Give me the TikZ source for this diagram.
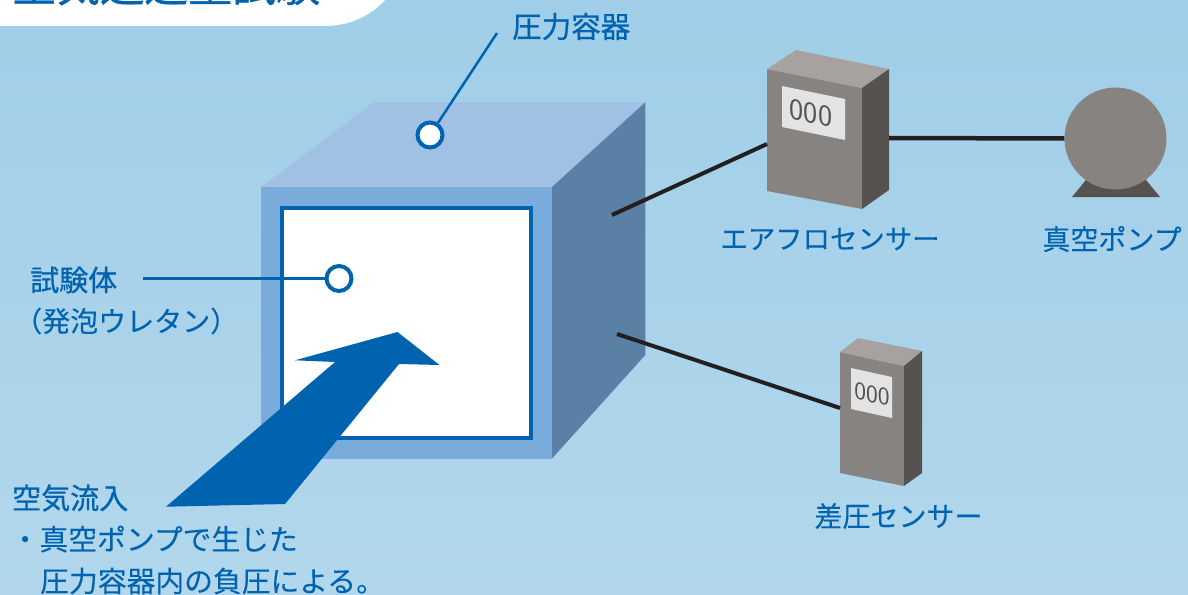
\documentclass[tikz,border=0pt]{standalone}
\usepackage{fontspec}
\setmainfont{Noto Sans CJK JP}
\newfontfamily\headfont[FakeBold=0.7]{Noto Sans CJK JP}
\newfontfamily\thinfont[FakeBold=0.15]{Noto Sans CJK JP}
\usetikzlibrary{positioning}
\definecolor{skytop}{HTML}{A0CEE8}
\definecolor{skybot}{HTML}{B2D7EC}
\definecolor{inkblue}{HTML}{0063B0}
\definecolor{boxgray}{HTML}{878381}
\definecolor{boxtop}{HTML}{A7A29F}
\definecolor{boxside}{HTML}{55524F}
\definecolor{panelgray}{HTML}{E4E3E4}
\definecolor{wirecol}{HTML}{231F20}
\definecolor{cubetop}{HTML}{A0C0E4}
\definecolor{cubeside}{HTML}{5A80A6}
\definecolor{cubefront}{HTML}{7AACDB}
\tikzset{
  label text/.style={text=inkblue,font=\thinfont\fontsize{28}{32}\selectfont,inner sep=0pt},
  head text/.style={text=inkblue,font=\headfont\fontsize{29}{32}\selectfont,inner sep=0pt},
  note text/.style={text=inkblue,font=\thinfont\fontsize{28.8}{32}\selectfont,inner sep=0pt},
  lead/.style={draw=inkblue,line width=2.5pt},
  ring/.style={circle,draw=inkblue,fill=white,line width=4pt,minimum size=25pt,inner sep=0pt},
  wire/.style={draw=wirecol,line width=4pt},
  digits/.style={text=boxside,font=\fontfamily{lmss}\fontsize{30}{30}\selectfont,inner sep=0pt,yslant=-0.2}
}
\begin{document}
\begin{tikzpicture}[x=1pt,y=-1pt]
  \useasboundingbox (0,0) rectangle (1188,594);
  \clip (0,0) rectangle (1188,594);
  \fill[top color=skytop,bottom color=skybot] (0,0) rectangle (1188,594);
  % title tab
  \fill[white] (0,0) -- (0,26) -- (325,26) .. controls (352,26) and (372,14) .. (385,0) -- cycle;
  \node[text=inkblue,inner sep=0pt,anchor=base west,font=\headfont\fontsize{44}{44}\selectfont] (title) at (12,1.5) {空気通過量試験};
  % vessel
  \fill[cubetop] (261,187) -- (373.5,102.3) -- (645.3,102.3) -- (552,187) -- cycle;
  \fill[cubeside] (552,187) -- (645.3,102.3) -- (645.3,355) -- (552,458.5) -- cycle;
  \fill[cubefront] (261,187) rectangle (552,458.5);
  \draw[draw=inkblue,fill=white,line width=4pt] (281.5,207.7) rectangle (530.7,438);
  % arrow
  \fill[inkblue] (166,506.7) -- (335,362) -- (295,360.3) -- (397.5,332) -- (439.5,365) -- (399,364) -- (285,504) -- cycle;
  % vessel labels
  \node[head text,anchor=west,font=\headfont\fontsize{29.5}{32}\selectfont] (vessellabel) at (512,26.5) {圧力容器};
  \node[ring] (topring) at (430,135) {};
  \coordinate (topend) at (497,33);
  \draw[lead] (topring) -- (topend);
  \node[head text,anchor=west] (bodylabel) at (30,280) {試験体};
  \node[label text,anchor=west] (bodysub) at (14,321) {（発泡ウレタン）};
  \node[ring] (bodyring) at (339,278.5) {};
  \coordinate (bodyend) at (143,278.5);
  \draw[lead] (bodyend) -- (bodyring);
  % air flow sensor
  \fill[boxgray] (767,69) -- (862,88) -- (862,209) -- (767,191) -- cycle;
  \fill[boxtop] (767,69) -- (796,50) -- (889,69) -- (862,88) -- cycle;
  \fill[boxside] (862,88) -- (889,69) -- (889,190) -- (862,209) -- cycle;
  \fill[panelgray] (782,86) -- (845,99) -- (845,140) -- (782,127) -- cycle;
  \node[digits] (flowdigits) at (811,113) {000};
  \node[label text,anchor=center,font=\thinfont\fontsize{27.4}{32}\selectfont] (flowlabel) at (830,239) {エアフロセンサー};
  % pump
  \fill[boxside] (1072,197) -- (1090,175) -- (1142,175) -- (1160,197) -- cycle;
  \node[circle,fill=boxgray,minimum size=102pt,inner sep=0pt] (pump) at (1115.5,138.5) {};
  \node[label text,anchor=center] (pumplabel) at (1112,239) {真空ポンプ};
  % pressure sensor
  \fill[boxgray] (840,352) -- (904,366) -- (904,486) -- (840,473) -- cycle;
  \fill[boxtop] (840,352) -- (858,338) -- (922,351) -- (904,366) -- cycle;
  \fill[boxside] (904,366) -- (922,351) -- (922,473) -- (904,486) -- cycle;
  \fill[panelgray] (851,368) -- (892,377) -- (892,418) -- (851,409) -- cycle;
  \node[digits,font=\fontfamily{lmss}\fontsize{25}{25}\selectfont] (diffdigits) at (872,394) {000};
  \node[label text,anchor=center] (difflabel) at (898.5,516) {差圧センサー};
  % wires
  \coordinate (flowport) at (612,215);
  \coordinate (flowside) at (767,144);
  \coordinate (flowout) at (889,138);
  \coordinate (diffport) at (617,334);
  \coordinate (diffside) at (840,408);
  \draw[wire] (flowport) -- (flowside);
  \draw[wire,line width=4.5pt] (flowout) -- (pump.west);
  \draw[wire] (diffport) -- (diffside);
  % air note
  \node[head text,anchor=west] (airhead) at (12,498) {空気流入};
  \node[note text,anchor=west] (airline) at (10.5,539) {・真空ポンプで生じた};
  \node[note text,anchor=west] (airlinetwo) at (40,581) {圧力容器内の負圧による。};
\end{tikzpicture}
\end{document}
